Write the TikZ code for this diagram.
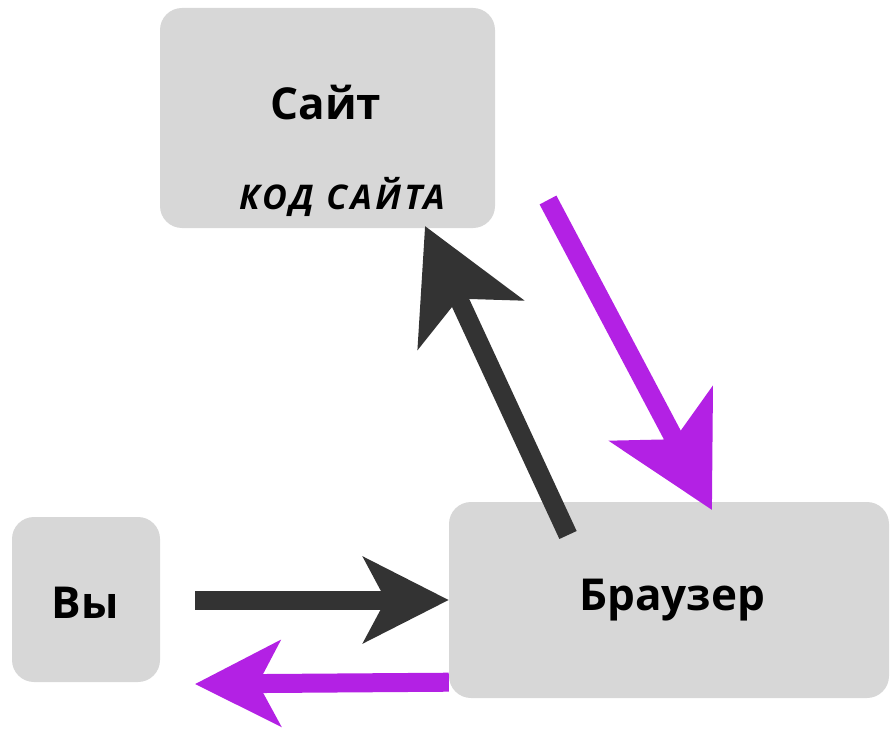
\documentclass[tikz,border=0pt]{standalone}
\usepackage{fontspec}
\setmainfont{Open Sans}
\usetikzlibrary{arrows.meta,calc}
\definecolor{boxgray}{HTML}{D7D7D7}
\definecolor{darkarrow}{HTML}{333333}
\definecolor{purplearrow}{HTML}{B321E4}
\tikzset{
  box/.style={fill=boxgray, draw=none, rounded corners=22pt, inner sep=0pt},
  boxtext/.style={font=\bfseries\fontsize{44}{46}\selectfont, text=black},
  codetext/.style={font=\bfseries\itshape\fontsize{34}{36}\selectfont\addfontfeature{LetterSpace=10}, text=black},
  flow/.style={line width=19pt},
  blackflow/.style={flow, draw=darkarrow, -{Stealth[length=85pt,width=85pt,inset=22pt]}},
  purpleflow/.style={flow, draw=purplearrow, -{Stealth[length=85pt,width=85pt,inset=22pt]}},
  bigblackflow/.style={flow, draw=darkarrow, -{Stealth[length=108pt,width=115pt,inset=28pt]}},
  bigpurpleflow/.style={flow, draw=purplearrow, -{Stealth[length=108pt,width=115pt,inset=28pt]}},
}
\begin{document}
\begin{tikzpicture}[x=1pt,y=-1pt]
\useasboundingbox (0,0) rectangle (890,730);
\node[box, minimum width=335pt, minimum height=220pt] (site) at (327.5,118) {};
\node[box, minimum width=148pt, minimum height=165pt] (you) at (86,599.5) {};
\node[box, minimum width=440pt, minimum height=196pt] (browser) at (669,600) {};
\node[boxtext] (sitetitle) at (326,103) {Сайт};
\node[codetext] (sitecode) at (342,197) {КОД САЙТА};
\node[boxtext] (youtext) at (85,603) {Вы};
\node[boxtext] (browsertext) at (672,600) {Браузер};
\coordinate (youout) at (195,600);
\coordinate (youin) at (195,684);
\coordinate (brup) at (568,535);
\coordinate (sitedown) at (548,200);
\coordinate (brdown) at (712,510);
\coordinate (siteup) at (425,226);
\draw[blackflow] (youout) -- (youout -| browser.west);
\draw[purpleflow] ($(browser.south west)+(0,-16)$) -- (youin);
\draw[bigblackflow] (brup) -- (siteup);
\draw[bigpurpleflow] (sitedown) -- (brdown);
\end{tikzpicture}
\end{document}
